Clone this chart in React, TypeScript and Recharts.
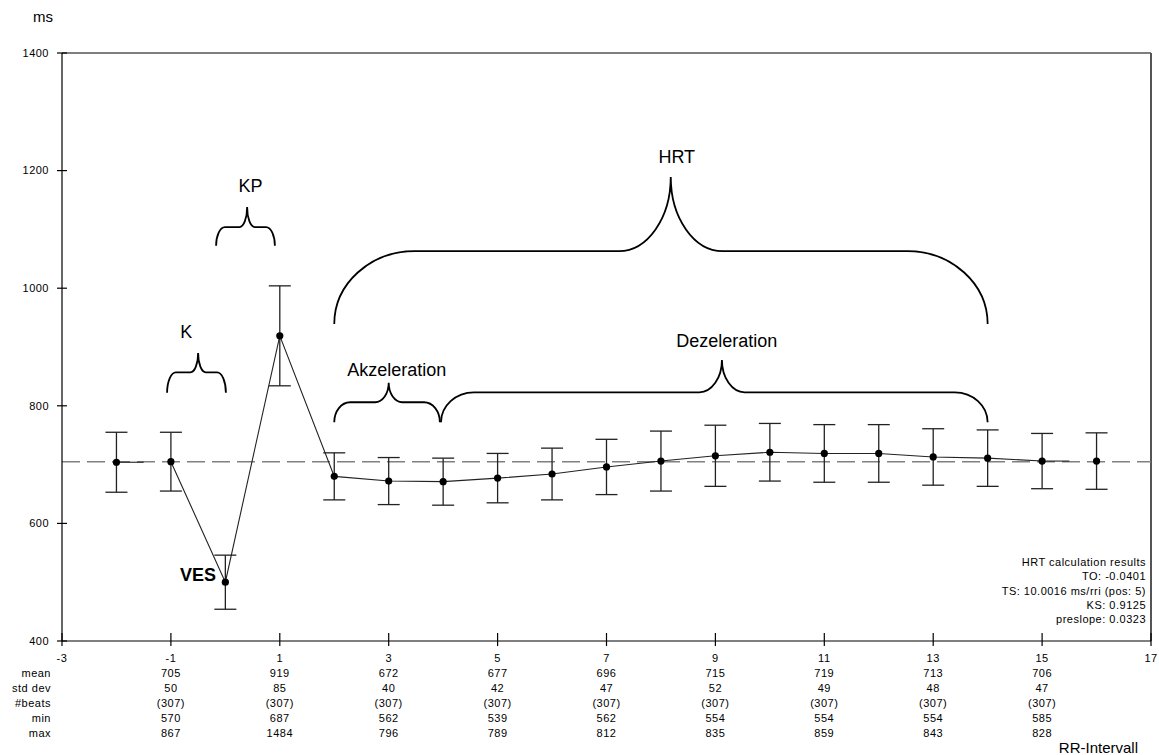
import React from 'react';
import {
  ComposedChart, Line, Scatter, ErrorBar, XAxis, YAxis,
  ReferenceLine, ReferenceArea, ReferenceDot,
} from 'recharts';

// RR intervals around the VES (position 0)
const beatPos = [-2, -1, 0, 1, 2, 3, 4, 5, 6, 7, 8, 9, 10, 11, 12, 13, 14, 15, 16];
const beatMean = [704, 705, 500, 919, 680, 672, 671, 677, 684, 696, 706, 715, 721, 719, 719, 713, 711, 706, 706];
const beatStd = [51, 50, 46, 85, 40, 40, 40, 42, 44, 47, 51, 52, 49, 49, 49, 48, 48, 47, 48];

// the connecting line only runs -1..15, plus the two short stubs at the ends
const lineFrom = -1;
const lineTo = 15;
const stubLeft = [{ x: -2, y: 704 }, { x: -1.5, y: 704 }];
const stubRight = [{ x: 15, y: 706 }, { x: 15.5, y: 706 }];
const refLevel = 705;

const xTicks = [-3, -1, 1, 3, 5, 7, 9, 11, 13, 15, 17];
const yTicks = [400, 600, 800, 1000, 1200, 1400];

// table under the axis
const tableX = [-1, 1, 3, 5, 7, 9, 11, 13, 15];
const rowLabels = ['mean', 'std dev', '#beats', 'min', 'max'];
const tableMean = [705, 919, 672, 677, 696, 715, 719, 713, 706];
const tableStd = [50, 85, 40, 42, 47, 52, 49, 48, 47];
const tableBeats = [307, 307, 307, 307, 307, 307, 307, 307, 307];
const tableMin = [570, 687, 562, 539, 562, 554, 554, 554, 585];
const tableMax = [867, 1484, 796, 789, 812, 835, 859, 843, 828];

const results = [
  'HRT calculation results',
  'TO: -0.0401',
  'TS: 10.0016 ms/rri (pos: 5)',
  'KS: 0.9125',
  'preslope: 0.0323',
];

// braces in data units: span x1..x2, ends at yEnd, shoulder at yMid, tip at (tipX, yTip)
const braces = [
  { x1: -1.07, x2: 0.01, yEnd: 822, yMid: 857, yTip: 890, tipX: -0.5 },
  { x1: -0.17, x2: 0.91, yEnd: 1072, yMid: 1104, yTip: 1138, tipX: 0.4 },
  { x1: 2, x2: 14, yEnd: 939, yMid: 1063, yTip: 1189, tipX: 8.18 },
  { x1: 2, x2: 3.94, yEnd: 772, yMid: 806, yTip: 839, tipX: 3.0 },
  { x1: 3.96, x2: 14, yEnd: 772, yMid: 823, yTip: 878, tipX: 9.12 },
];

const notes = [
  { text: 'K', x: -0.72, y: 915 },
  { text: 'KP', x: 0.46, y: 1163 },
  { text: 'HRT', x: 8.29, y: 1213 },
  { text: 'Akzeleration', x: 3.15, y: 851 },
  { text: 'Dezeleration', x: 9.21, y: 900 },
  { text: 'VES', x: -0.5, y: 502, bold: true },
];

const FONT = 'Arial, "Liberation Sans", sans-serif';
const small = { fontFamily: FONT, fontSize: 11, letterSpacing: 0.5, fill: '#000' };

const points = beatPos.map((x, i) => ({ x, y: beatMean[i], err: beatStd[i] }));
const lineData = points.filter((p) => p.x >= lineFrom && p.x <= lineTo);

const XTick = (props: any) => {
  const { x, y, payload } = props;
  const ax = y - 5;
  const col = tableX.indexOf(payload.value);
  const rows = col >= 0
    ? [tableMean[col], tableStd[col], `(${tableBeats[col]})`, tableMin[col], tableMax[col]]
    : [];
  return (
    <g>
      <line x1={x} x2={x} y1={ax - 8} y2={ax + 5} stroke="#000" strokeWidth={1.2} />
      <text x={x} y={ax + 21} textAnchor="middle" {...small}>{payload.value}</text>
      {rows.map((r, i) => (
        <text key={i} x={x} y={ax + 36 + i * 15} textAnchor="middle" {...small}>{r}</text>
      ))}
      {payload.value === -3 && rowLabels.map((r, i) => (
        <text key={r} x={x - 11} y={ax + 36 + i * 15} textAnchor="end" {...small}>{r}</text>
      ))}
    </g>
  );
};

const YTick = (props: any) => {
  const { x, y, payload } = props;
  return (
    <g>
      <line x1={x} x2={x + 10} y1={y} y2={y} stroke="#000" strokeWidth={1.2} />
      <text x={x - 8} y={y} dy="0.35em" textAnchor="end" {...small}>{payload.value}</text>
    </g>
  );
};

const braceShape = (b: any) => (p: any) => {
  const { x, y, width, height } = p;
  const left = x;
  const right = x + width;
  const top = y;
  const bottom = y + height;
  const midY = bottom - ((b.yMid - b.yEnd) / (b.yTip - b.yEnd)) * height;
  const tip = left + ((b.tipX - b.x1) / (b.x2 - b.x1)) * width;
  const ryE = bottom - midY;
  const ryM = midY - top;
  const rxE = Math.min(ryE * 1.1, width * 0.15);
  const rxM = Math.min(ryM * 0.7, width * 0.13);
  const k = 0.552;
  const d = [
    `M${left},${bottom}`,
    `C${left},${bottom - k * ryE} ${left + rxE - k * rxE},${midY} ${left + rxE},${midY}`,
    `L${tip - rxM},${midY}`,
    `C${tip - rxM + k * rxM},${midY} ${tip},${top + k * ryM} ${tip},${top}`,
    `C${tip},${top + k * ryM} ${tip + rxM - k * rxM},${midY} ${tip + rxM},${midY}`,
    `L${right - rxE},${midY}`,
    `C${right - rxE + k * rxE},${midY} ${right},${bottom - k * ryE} ${right},${bottom}`,
  ].join(' ');
  return <path d={d} fill="none" stroke="#000" strokeWidth={1.8} />;
};

const noteShape = (n: any) => (p: any) => (
  <text
    x={p.cx}
    y={p.cy}
    textAnchor="middle"
    fontFamily={FONT}
    fontSize={18}
    fontWeight={n.bold ? 'bold' : 'normal'}
    fill="#000"
  >
    {n.text}
  </text>
);

const resultsShape = (p: any) => (
  <g>
    {results.map((r, i) => (
      <text key={r} x={p.cx - 5} y={p.cy - 75 + i * 14.3} textAnchor="end" {...small}>{r}</text>
    ))}
  </g>
);

const unitShape = (p: any) => (
  <text x={p.cx - 9} y={p.cy - 31} textAnchor="end" fontFamily={FONT} fontSize={15} fill="#000">ms</text>
);

const axisTitleShape = (p: any) => (
  <text x={p.cx - 13} y={p.cy + 112} textAnchor="end" fontFamily={FONT} fontSize={15} fill="#000">RR-Intervall</text>
);

export default function App() {
  return (
    <div style={{ position: 'absolute', left: 0, top: 0, width: 1159, height: 755, background: '#fff' }}>
      <ComposedChart width={1159} height={755} margin={{ top: 53, right: 8, bottom: 0, left: 0 }}>
        <XAxis
          type="number"
          dataKey="x"
          domain={[-3, 17]}
          ticks={xTicks}
          interval={0}
          height={114}
          tickSize={5}
          tickMargin={0}
          tickLine={false}
          allowDataOverflow
          axisLine={{ stroke: '#000', strokeWidth: 1.2 }}
          tick={XTick}
        />
        <YAxis
          type="number"
          domain={[400, 1400]}
          ticks={yTicks}
          interval={0}
          width={62}
          tickSize={5}
          tickMargin={0}
          tickLine={false}
          allowDataOverflow
          axisLine={{ stroke: '#000', strokeWidth: 1.2 }}
          tick={YTick}
        />
        <ReferenceLine y={1400} stroke="#000" strokeWidth={1.2} />
        <ReferenceLine x={17} stroke="#555" strokeWidth={2} />
        <ReferenceLine y={refLevel} stroke="#808080" strokeWidth={1.5} strokeDasharray="18 7" />
        <Line data={lineData} dataKey="y" stroke="#222" strokeWidth={1.1} dot={false} isAnimationActive={false} />
        <Line data={stubLeft} dataKey="y" stroke="#222" strokeWidth={1.1} dot={false} isAnimationActive={false} />
        <Line data={stubRight} dataKey="y" stroke="#222" strokeWidth={1.1} dot={false} isAnimationActive={false} />
        <Scatter
          data={points}
          dataKey="y"
          isAnimationActive={false}
          shape={(p: any) => <circle cx={p.cx} cy={p.cy} r={3.6} fill="#000" />}
        >
          <ErrorBar dataKey="err" direction="y" width={11} stroke="#222" strokeWidth={1.3} />
        </Scatter>
        {braces.map((b, i) => (
          <ReferenceArea key={i} x1={b.x1} x2={b.x2} y1={b.yEnd} y2={b.yTip} shape={braceShape(b)} />
        ))}
        {notes.map((n) => (
          <ReferenceDot key={n.text} x={n.x} y={n.y} shape={noteShape(n)} />
        ))}
        <ReferenceDot x={17} y={400} shape={resultsShape} />
        <ReferenceDot x={-3} y={1400} shape={unitShape} />
        <ReferenceDot x={17} y={400} shape={axisTitleShape} />
      </ComposedChart>
    </div>
  );
}
